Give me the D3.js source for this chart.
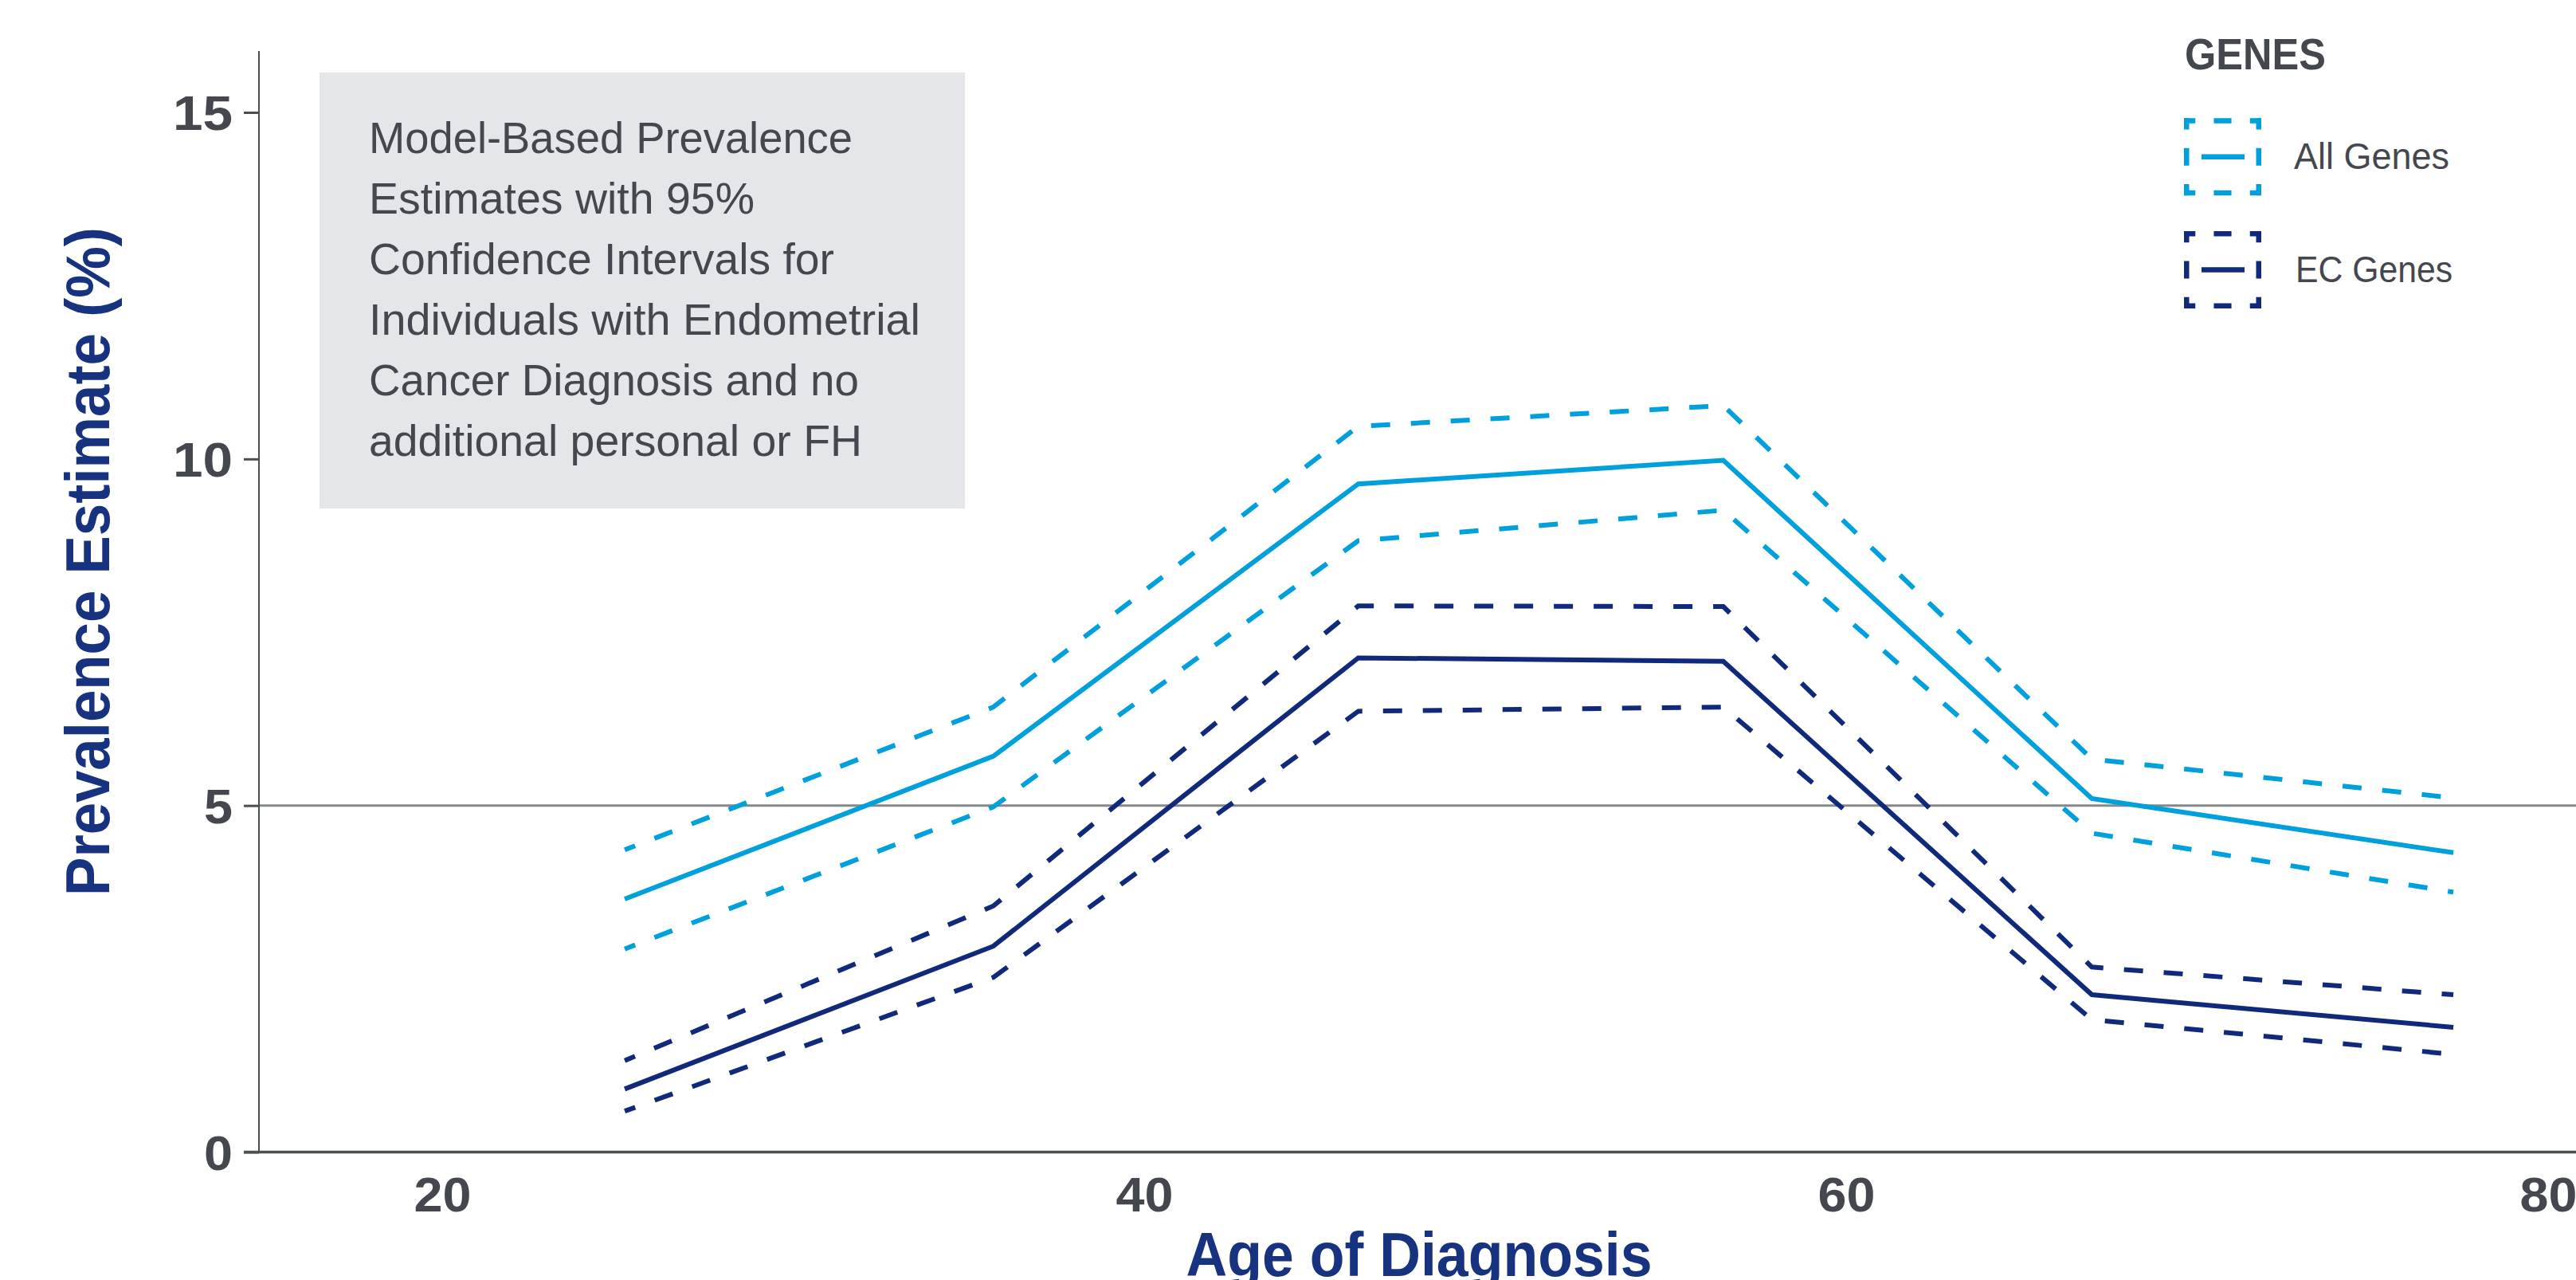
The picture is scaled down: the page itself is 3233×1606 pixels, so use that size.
<!DOCTYPE html>
<html><head><meta charset="utf-8">
<script src="https://cdn.jsdelivr.net/npm/d3@7"></script>
<style>html,body{margin:0;padding:0;background:#fff;overflow:hidden}</style>
</head><body><svg id="chart" width="3233" height="1606"></svg>
<script>
// ---------------- data ----------------
const ages = [25.2, 35.7, 46.1, 56.5, 67.0, 77.3];
const allGenes      = [3.65, 5.71, 9.64, 9.98, 5.10, 4.32];
const allGenesUpper = [4.36, 6.42, 10.47, 10.77, 5.67, 5.11];
const allGenesLower = [2.93, 4.98, 8.82, 9.26, 4.60, 3.75];
const ecGenes       = [0.91, 2.97, 7.13, 7.08, 2.27, 1.80];
const ecGenesUpper  = [1.32, 3.55, 7.88, 7.87, 2.67, 2.27];
const ecGenesLower  = [0.59, 2.52, 6.36, 6.42, 1.91, 1.41];
const xTicks = [20, 40, 60, 80];
const yTicks = [0, 5, 10, 15];
const refLineValue = 5;
const legendTitle = "GENES";
const seriesNames = ["All Genes", "EC Genes"];
const noteLines = [
  "Model-Based Prevalence",
  "Estimates with 95%",
  "Confidence Intervals for",
  "Individuals with Endometrial",
  "Cancer Diagnosis and no",
  "additional personal or FH"
];
const xTitle = "Age of Diagnosis";
const yTitle = "Prevalence Estimate (%)";

// ---------------- styles / layout ----------------
const W = 3233, H = 1606;
const FONT = "'Liberation Sans', Arial, Helvetica, sans-serif";
const GRAY_TEXT = "#45474f";
const NAVY_TITLE = "#17327f";
const C_ALL = "#00a0dc";
const C_EC = "#10297a";
const plotLeft = 325, plotRight = W, plotTop = 64;

const svg = d3.select("#chart");
const x = d3.scaleLinear().domain([20, 80]).range([555, 3198]);
const y = d3.scaleLinear().domain([0, 15]).range([1445.5, 141]);

// note box
const note = svg.append("g");
note.append("rect").attr("x", 401).attr("y", 91).attr("width", 810).attr("height", 547)
  .attr("fill", "#e5e6ea");
const noteWidths = [607, 484, 584, 692, 615, 619];
note.selectAll("text").data(noteLines).join("text")
  .attr("x", 463).attr("y", (d, i) => 192 + i * 75.9)
  .attr("font-family", FONT).attr("font-size", 56).attr("fill", GRAY_TEXT)
  .attr("textLength", (d, i) => noteWidths[i]).attr("lengthAdjust", "spacingAndGlyphs")
  .text(d => d);

// reference line at 5
svg.append("line").attr("x1", plotLeft).attr("x2", plotRight)
  .attr("y1", y(refLineValue)).attr("y2", y(refLineValue))
  .attr("stroke", "#85888b").attr("stroke-width", 3);

// series lines
const lineGen = d3.line().x((d, i) => x(ages[i])).y(d => y(d));
const series = [
  {vals: allGenesUpper, color: C_ALL, dash: true},
  {vals: allGenesLower, color: C_ALL, dash: true},
  {vals: allGenes, color: C_ALL, dash: false},
  {vals: ecGenesUpper, color: C_EC, dash: true},
  {vals: ecGenesLower, color: C_EC, dash: true},
  {vals: ecGenes, color: C_EC, dash: false}
];
svg.append("g").selectAll("path").data(series).join("path")
  .attr("d", d => lineGen(d.vals))
  .attr("fill", "none").attr("stroke", d => d.color)
  .attr("stroke-width", 6)
  .attr("stroke-linejoin", "miter")
  .attr("stroke-dasharray", d => d.dash ? "24 26" : null)
  .attr("stroke-dashoffset", d => d.dash ? 10 : null);

// y axis
const yAxis = svg.append("g").attr("transform", `translate(${plotLeft},0)`)
  .call(d3.axisLeft(y).tickValues(yTicks).tickSize(19).tickPadding(14).tickFormat(d3.format("d")));
yAxis.select(".domain").remove();
yAxis.selectAll(".tick line").attr("stroke", "#4a4f52").attr("stroke-width", 3);
yAxis.selectAll(".tick text").attr("font-family", FONT).attr("font-weight", "bold")
  .attr("font-size", 61).attr("fill", GRAY_TEXT).attr("dy", "0.36em")
  .attr("textLength", d => d >= 10 ? 75 : 36).attr("lengthAdjust", "spacingAndGlyphs");
svg.append("line").attr("x1", plotLeft).attr("x2", plotLeft).attr("y1", plotTop).attr("y2", y(0))
  .attr("stroke", "#4a4f52").attr("stroke-width", 2);

// x axis
const xAxis = svg.append("g").attr("transform", `translate(0,${y(0)})`)
  .call(d3.axisBottom(x).tickValues(xTicks).tickSize(0).tickPadding(0).tickFormat(d3.format("d")));
xAxis.select(".domain").remove();
xAxis.selectAll(".tick text").attr("font-family", FONT).attr("font-weight", "bold")
  .attr("font-size", 61).attr("fill", GRAY_TEXT).attr("dy", null).attr("y", 1520 - y(0))
  .attr("textLength", 72).attr("lengthAdjust", "spacingAndGlyphs");
svg.append("line").attr("x1", plotLeft - 19).attr("x2", plotRight).attr("y1", y(0)).attr("y2", y(0))
  .attr("stroke", "#4a524f").attr("stroke-width", 3.5);

// axis titles
svg.append("text").attr("x", 1781).attr("y", 1601).attr("text-anchor", "middle")
  .attr("font-family", FONT).attr("font-weight", "bold").attr("font-size", 78)
  .attr("fill", NAVY_TITLE).attr("textLength", 585).attr("lengthAdjust", "spacingAndGlyphs")
  .text(xTitle);
svg.append("text").attr("transform", "translate(137,704.5) rotate(-90)").attr("text-anchor", "middle")
  .attr("font-family", FONT).attr("font-weight", "bold").attr("font-size", 78)
  .attr("fill", NAVY_TITLE).attr("textLength", 839).attr("lengthAdjust", "spacingAndGlyphs")
  .text(yTitle);

// legend
const lg = svg.append("g");
lg.append("text").attr("x", 2742).attr("y", 86.5)
  .attr("font-family", FONT).attr("font-weight", "bold").attr("font-size", 55)
  .attr("fill", GRAY_TEXT).attr("textLength", 177).attr("lengthAdjust", "spacingAndGlyphs")
  .text(legendTitle);

function dashEdge(g, x1, y1, x2, y2, color) {
  const L = Math.hypot(x2 - x1, y2 - y1);
  const c = L * 0.147, m = L * 0.228, gap = (L - 2 * c - m) / 2;
  g.append("line").attr("x1", x1).attr("y1", y1).attr("x2", x2).attr("y2", y2)
    .attr("stroke", color).attr("stroke-width", 6.5)
    .attr("stroke-dasharray", `${c} ${gap} ${m} ${gap} ${c} 1000`);
}
function legendSymbol(top, color) {
  const g = lg.append("g");
  const size = 97, s = 3.25;
  const x0 = 2741, x1 = x0 + size, y0 = top, y1 = top + size;
  dashEdge(g, x0, y0 + s, x1, y0 + s, color);
  dashEdge(g, x0, y1 - s, x1, y1 - s, color);
  dashEdge(g, x0 + s, y0, x0 + s, y1, color);
  dashEdge(g, x1 - s, y0, x1 - s, y1, color);
  g.append("line").attr("x1", 2763).attr("x2", 2817).attr("y1", top + size / 2).attr("y2", top + size / 2)
    .attr("stroke", color).attr("stroke-width", 6.5);
}
const legendTops = [148.3, 290];
const legendColors = [C_ALL, C_EC];
const legendLabelWidths = [195, 197];
seriesNames.forEach((name, i) => {
  legendSymbol(legendTops[i], legendColors[i]);
  lg.append("text").attr("x", 2879 + i * 2).attr("y", legendTops[i] + 63.5)
    .attr("font-family", FONT).attr("font-size", 46).attr("fill", GRAY_TEXT)
    .attr("textLength", legendLabelWidths[i]).attr("lengthAdjust", "spacingAndGlyphs")
    .text(name);
});
</script>
</body></html>
